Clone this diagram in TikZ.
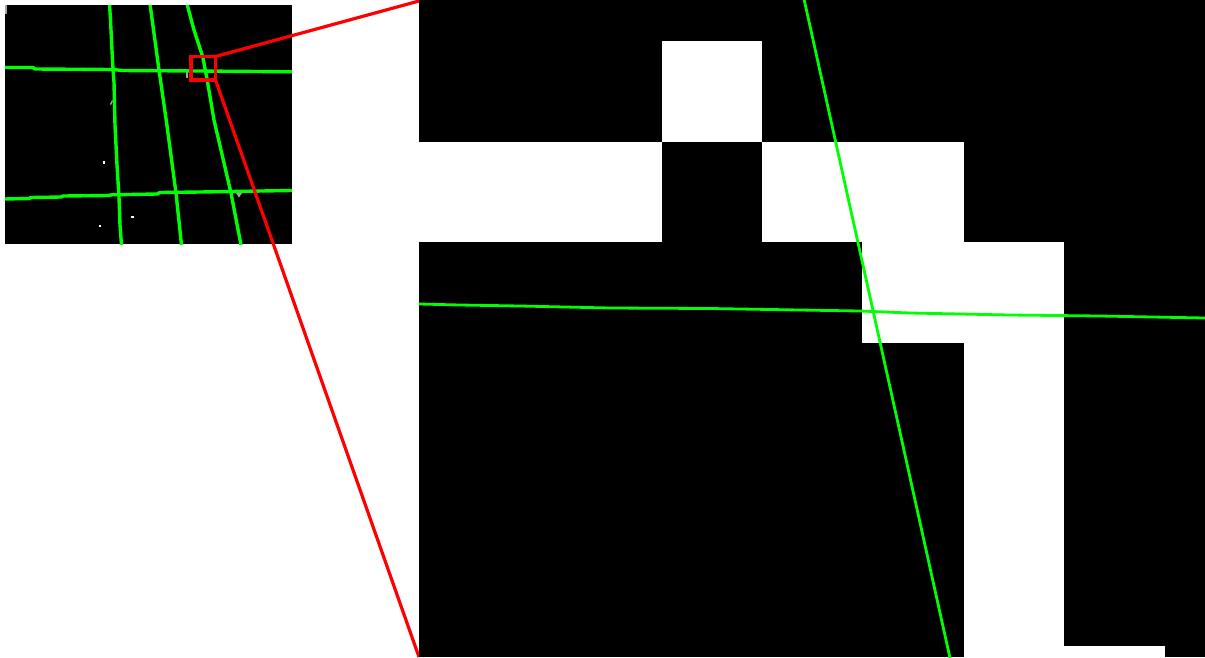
\documentclass[tikz,border=0pt]{standalone}
\begin{document}
\begin{tikzpicture}[x=1pt,y=-1pt,
  greenline/.style={draw={rgb,255:red,0;green,255;blue,0},line width=3.4pt,line join=round},
  biggreen/.style={draw={rgb,255:red,0;green,255;blue,0},line width=2.8pt,line join=round},
  redline/.style={draw={rgb,255:red,255;green,0;blue,0},line width=3.2pt},
  whitepx/.style={fill=white},
  speck/.style={fill=gray!70}]
\useasboundingbox (0,0) rectangle (1205,657);
% small panel
\fill[black] (5,5) rectangle (292,244);
\begin{scope}
\clip (5,5) rectangle (292,244);
\fill[speck] (5,5) rectangle (6.5,14);
\fill[speck] (110,104) -- (112,100) -- (113,101) -- (111,105) -- cycle;
\fill[speck] (186,72) rectangle (187.5,78);
\fill[white] (103,161) rectangle (104.5,164);
\fill[white] (99,225) rectangle (101,227);
\fill[white] (131,216) rectangle (133.5,218);
\fill[speck] (236,193) -- (242,193) -- (239,197.5) -- cycle;
\draw[greenline] (4,67.5) -- (33,67.5) -- (35,69) -- (113,69.5) -- (122,70.5) -- (200,71) -- (292,71.8);
\draw[greenline] (4,199) -- (29,198.5) -- (31,197.5) -- (61,197) -- (63,196) -- (108,195.5) -- (112,194.8) -- (157,194) -- (160,192.5) -- (200,192) -- (292,190.5);
\draw[greenline] (109.5,4) -- (110.5,20) -- (112,50) -- (113,70) -- (114,82) -- (115,125) -- (117,165) -- (119,197) -- (120,225) -- (121.5,245);
\draw[greenline] (150,4) -- (159,70) -- (166.5,122) -- (176,193) -- (181.5,245);
\draw[greenline] (187,4) -- (194,30) -- (202.8,57) -- (207.2,80) -- (214,120) -- (231,193) -- (241,245);
\end{scope}
% zoom box and connectors
\draw[redline] (191,56.5) rectangle (215.5,80);
\draw[redline] (215.5,56.5) -- (419,1);
\draw[redline] (215.5,80) -- (419,657);
% big panel
\fill[black] (419,0) rectangle (1205,657);
\fill[whitepx] (662,41) rectangle (762,142);
\fill[whitepx] (419,142) rectangle (662,242);
\fill[whitepx] (762,142) rectangle (964,242);
\fill[whitepx] (862,242) rectangle (1064,343);
\fill[whitepx] (964,343) rectangle (1064,657);
\fill[whitepx] (1064,645.5) rectangle (1165,657);
\begin{scope}
\clip (419,0) rectangle (1205,657);
\draw[biggreen] (419,304) -- (460,305) -- (520,306) -- (610,308) -- (710,308.5) -- (800,310) -- (860,311) -- (910,313) -- (1010,315) -- (1100,316) -- (1205,318);
\draw[biggreen] (804,-1) -- (950,658);
\end{scope}
\end{tikzpicture}
\end{document}
